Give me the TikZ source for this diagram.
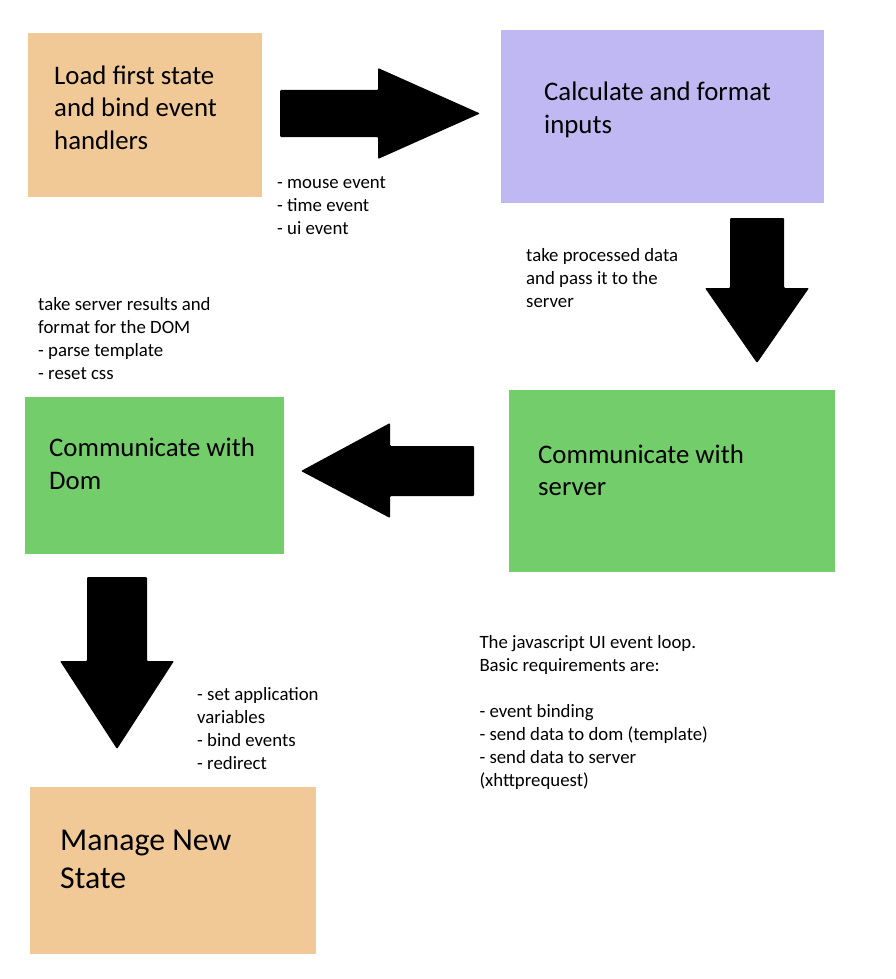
\documentclass[tikz,border=0pt]{standalone}
\usepackage{fontspec}
\setmainfont{Carlito}
\definecolor{boxorange}{RGB}{241,201,150}
\definecolor{boxpurple}{RGB}{191,184,243}
\definecolor{boxgreen}{RGB}{115,205,106}
\begin{document}
\begin{tikzpicture}[x=1pt,y=-1pt,
  box/.style={draw=none, inner sep=0pt, outer sep=0pt},
  bigtxt/.style={anchor=base west, inner sep=0pt, align=left, font=\fontsize{26.8}{32.5}\selectfont},
  hugetxt/.style={anchor=base west, inner sep=0pt, align=left, font=\fontsize{31.8}{38.3}\selectfont},
  smalltxt/.style={anchor=base west, inner sep=0pt, align=left, font=\fontsize{18.8}{23}\selectfont},
  blockarrow/.style={fill=black, rounded corners=1pt}]
\fill[white] (0,0) rectangle (896,979);
\useasboundingbox (0,0) rectangle (896,979);

% boxes
\path[box, fill=boxorange] (28,33) rectangle (262,197);
\path[box, fill=boxpurple] (501,30) rectangle (824,203);
\path[box, fill=boxgreen] (509,390) rectangle (835,572);
\path[box, fill=boxgreen] (25,397) rectangle (284,554);
\path[box, fill=boxorange] (30,787) rectangle (316,954);

% box texts (anchored at the baseline of the last line)
\node[bigtxt] (t1) at (54,149) {Load first state\\and bind event\\handlers};
\node[bigtxt] (t2) at (544,133.5) {Calculate and format\\inputs};
\node[bigtxt] (t3) at (538,495.7) {Communicate with\\server};
\node[bigtxt] (t4) at (49,489.3) {Communicate with\\Dom};
\node[hugetxt] (t5) at (60,888.3) {Manage New\\State};

% block arrows
\fill[blockarrow] (280,90) -- (378,90) -- (378,68) -- (480,113.5) -- (378,159) -- (378,137) -- (280,137) -- cycle;
\fill[blockarrow] (730,218) -- (784,218) -- (784,288) -- (809,288) -- (757,363) -- (705,288) -- (730,288) -- cycle;
\fill[blockarrow] (474,446) -- (474,496) -- (390,496) -- (390,518) -- (301,471) -- (390,423) -- (390,446) -- cycle;
\fill[blockarrow] (87,577) -- (147,577) -- (147,661) -- (174,661) -- (117,749) -- (60,661) -- (87,661) -- cycle;

% annotations (anchored at the baseline of the last line)
\node[smalltxt] (l1) at (277,234) {- mouse event\\- time event\\- ui event};
\node[smalltxt] (l2) at (526,307) {take processed data\\and pass it to the\\server};
\node[smalltxt] (l3) at (38,379) {take server results and\\format for the DOM\\- parse template\\- reset css};
\node[smalltxt] (l4) at (197,769.5) {- set application\\variables\\- bind events\\- redirect};
\node[smalltxt] (l5) at (479.3,786.7) {The javascript UI event loop.\\Basic requirements are:\\[23pt]- event binding\\- send data to dom (template)\\- send data to server\\(xhttprequest)};
\end{tikzpicture}
\end{document}
